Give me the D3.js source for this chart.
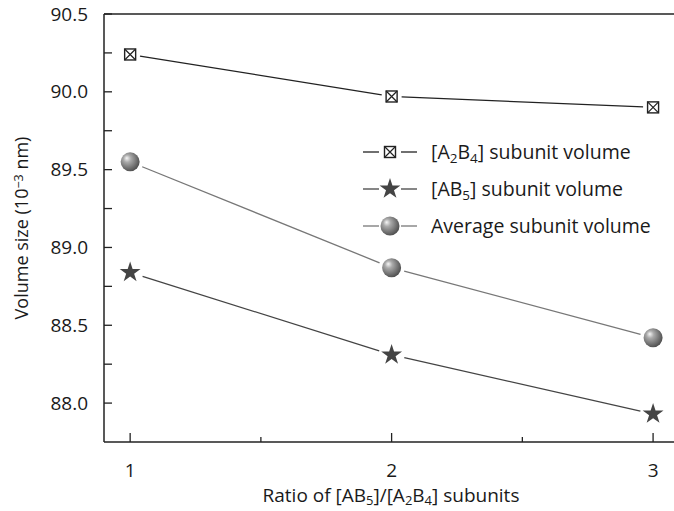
<!DOCTYPE html>
<html>
<head>
<meta charset="utf-8">
<script src="https://cdn.jsdelivr.net/npm/d3@7"></script>
<style>
  body { margin: 0; background: #fff; }
  svg { display: block; font-family: "Open Sans", "Noto Sans", sans-serif; }
</style>
</head>
<body>
<svg id="chart" width="674" height="511"></svg>
<script>
// data
var ratios = [1, 2, 3];
var a2b4Volume = [90.24, 89.97, 89.90];
var ab5Volume = [88.84, 88.31, 87.93];
var avgVolume = [89.55, 88.87, 88.42];
var yTicks = [88.0, 88.5, 89.0, 89.5, 90.0, 90.5];

var margin = {left: 104, top: 14, bottom: 69};
var W = 674, H = 511;
var svg = d3.select("#chart");

var xs = d3.scaleLinear().domain([0.9, 3.08]).range([margin.left, 674]);
var ys = d3.scaleLinear().domain([87.75, 90.5]).range([H - margin.bottom, margin.top]);
var y0 = ys.range()[0], y1 = ys.range()[1];

// gradient for the sphere marker
var defs = svg.append("defs");
var grad = defs.append("radialGradient").attr("id", "sphere")
	.attr("cx", "40%").attr("cy", "40%").attr("r", "65%")
	.attr("fx", "32%").attr("fy", "30%");
grad.append("stop").attr("offset", "0%").attr("stop-color", "#f6f6f6");
grad.append("stop").attr("offset", "30%").attr("stop-color", "#aaaaaa");
grad.append("stop").attr("offset", "100%").attr("stop-color", "#4a4a4a");

// frame: left axis, top line, bottom axis
svg.append("line").attr("x1", xs.range()[0]).attr("x2", W).attr("y1", y1).attr("y2", y1)
	.attr("stroke", "#222").attr("stroke-width", 1.5);
svg.append("line").attr("x1", xs.range()[0]).attr("x2", W).attr("y1", y0).attr("y2", y0)
	.attr("stroke", "#222").attr("stroke-width", 1.5);
svg.append("line").attr("x1", xs.range()[0]).attr("x2", xs.range()[0]).attr("y1", y1).attr("y2", y0)
	.attr("stroke", "#222").attr("stroke-width", 1.5);

// y ticks (inside) + labels
var yMinor = d3.range(88.0, 90.51, 0.25);
svg.append("g").selectAll("line").data(yMinor).enter().append("line")
	.attr("x1", xs.range()[0]).attr("x2", xs.range()[0] + 8)
	.attr("y1", function(d) { return ys(d); }).attr("y2", function(d) { return ys(d); })
	.attr("stroke", "#222").attr("stroke-width", 1.3);
svg.append("g").selectAll("text").data(yTicks).enter().append("text")
	.attr("x", 88).attr("y", function(d) { return ys(d); })
	.attr("dy", "0.35em").attr("text-anchor", "end")
	.attr("font-size", "19px").attr("fill", "#1a1a1a")
	.text(function(d) { return d.toFixed(1); });

// x ticks (inside) + labels
var xMinor = [1.5, 2.5];
svg.append("g").selectAll("line").data(ratios).enter().append("line")
	.attr("x1", function(d) { return xs(d); }).attr("x2", function(d) { return xs(d); })
	.attr("y1", y0).attr("y2", y0 - 9)
	.attr("stroke", "#222").attr("stroke-width", 1.3);
svg.append("g").selectAll("line").data(xMinor).enter().append("line")
	.attr("x1", function(d) { return xs(d); }).attr("x2", function(d) { return xs(d); })
	.attr("y1", y0).attr("y2", y0 - 5)
	.attr("stroke", "#222").attr("stroke-width", 1.3);
svg.append("g").selectAll("text").data(ratios).enter().append("text")
	.attr("x", function(d) { return xs(d); }).attr("y", y0 + 35)
	.attr("text-anchor", "middle").attr("font-size", "19px").attr("fill", "#1a1a1a")
	.text(function(d) { return d; });

// axis titles
var xt = svg.append("text").attr("x", 391).attr("y", 502)
	.attr("text-anchor", "middle").attr("font-size", "19px").attr("fill", "#1a1a1a");
xt.append("tspan").text("Ratio of [AB");
xt.append("tspan").attr("baseline-shift", "-25%").attr("font-size", "13px").text("5");
xt.append("tspan").text("]/[A");
xt.append("tspan").attr("baseline-shift", "-25%").attr("font-size", "13px").text("2");
xt.append("tspan").text("B");
xt.append("tspan").attr("baseline-shift", "-25%").attr("font-size", "13px").text("4");
xt.append("tspan").text("] subunits");

var yt = svg.append("text").attr("transform", "translate(28," + ((y0 + y1) / 2) + ") rotate(-90)")
	.attr("text-anchor", "middle").attr("font-size", "18px").attr("fill", "#1a1a1a");
yt.append("tspan").text("Volume size (10");
yt.append("tspan").attr("baseline-shift", "40%").attr("font-size", "12.5px").text("\u22123");
yt.append("tspan").text(" nm)");

// series
var series = [
	{name: "a2b4", values: a2b4Volume, color: "#222", marker: "box", gap: 10},
	{name: "ab5", values: ab5Volume, color: "#444", marker: "star", gap: 13},
	{name: "avg", values: avgVolume, color: "#777", marker: "sphere", gap: 13}
];

function drawMarker(g, type, x, y) {
	if (type == "box") {
		g.append("rect").attr("x", x - 5.5).attr("y", y - 5.5).attr("width", 11).attr("height", 11)
			.attr("fill", "#fff").attr("stroke", "#222").attr("stroke-width", 1.4);
		g.append("path").attr("d", "M" + (x - 5.5) + "," + (y - 5.5) + "L" + (x + 5.5) + "," + (y + 5.5)
			+ "M" + (x + 5.5) + "," + (y - 5.5) + "L" + (x - 5.5) + "," + (y + 5.5))
			.attr("stroke", "#222").attr("stroke-width", 1.2);
	} else if (type == "star") {
		g.append("path").attr("d", d3.symbol(d3.symbolStar, 135)())
			.attr("transform", "translate(" + x + "," + y + ")")
			.attr("fill", "#444");
	} else {
		g.append("circle").attr("cx", x).attr("cy", y).attr("r", 9.5)
			.attr("fill", "url(#sphere)");
	}
}

series.forEach(function(s) {
	var g = svg.append("g");
	// line segments with small gaps around the markers
	for (var i = 0; i < ratios.length - 1; i++) {
		var xa = xs(ratios[i]), ya = ys(s.values[i]);
		var xb = xs(ratios[i + 1]), yb = ys(s.values[i + 1]);
		var len = Math.sqrt((xb - xa) * (xb - xa) + (yb - ya) * (yb - ya));
		var ux = (xb - xa) / len, uy = (yb - ya) / len;
		g.append("line")
			.attr("x1", xa + ux * s.gap).attr("y1", ya + uy * s.gap)
			.attr("x2", xb - ux * s.gap).attr("y2", yb - uy * s.gap)
			.attr("stroke", s.color).attr("stroke-width", 1.3);
	}
	ratios.forEach(function(r, i) { drawMarker(g, s.marker, xs(r), ys(s.values[i])); });
});

// legend
var legendRows = [152, 189, 226];
var legend = svg.append("g");
series.forEach(function(s, i) {
	var ly = legendRows[i];
	legend.append("line").attr("x1", 363).attr("x2", 379).attr("y1", ly).attr("y2", ly)
		.attr("stroke", s.color).attr("stroke-width", 1.3);
	legend.append("line").attr("x1", 401).attr("x2", 417).attr("y1", ly).attr("y2", ly)
		.attr("stroke", s.color).attr("stroke-width", 1.3);
	drawMarker(legend, s.marker, 390, ly);
});
var t1 = legend.append("text").attr("x", 431).attr("y", legendRows[0]).attr("dy", "0.35em")
	.attr("font-size", "19.5px").attr("fill", "#1a1a1a");
t1.append("tspan").text("[A");
t1.append("tspan").attr("baseline-shift", "-25%").attr("font-size", "13.5px").text("2");
t1.append("tspan").text("B");
t1.append("tspan").attr("baseline-shift", "-25%").attr("font-size", "13.5px").text("4");
t1.append("tspan").text("] subunit volume");
var t2 = legend.append("text").attr("x", 431).attr("y", legendRows[1]).attr("dy", "0.35em")
	.attr("font-size", "19.5px").attr("fill", "#1a1a1a");
t2.append("tspan").text("[AB");
t2.append("tspan").attr("baseline-shift", "-25%").attr("font-size", "13.5px").text("5");
t2.append("tspan").text("] subunit volume");
legend.append("text").attr("x", 431).attr("y", legendRows[2]).attr("dy", "0.35em")
	.attr("font-size", "19.5px").attr("fill", "#1a1a1a").text("Average subunit volume");
</script>
</body>
</html>
